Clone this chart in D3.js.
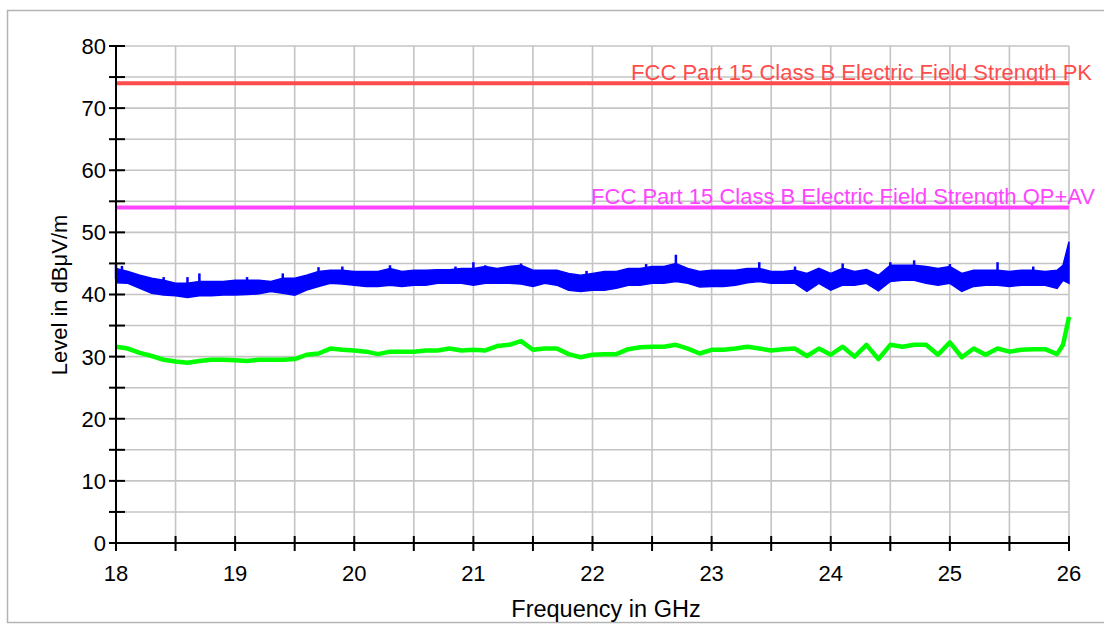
<!DOCTYPE html>
<html>
<head>
<meta charset="utf-8">
<script src="https://cdn.jsdelivr.net/npm/d3@7"></script>
<style>
  html, body { margin: 0; padding: 0; background: #ffffff; }
  svg { display: block; }
  text { font-family: "Liberation Sans", Arial, Helvetica, sans-serif; }
</style>
</head>
<body>
<svg id="chart" width="1104" height="624"></svg>
<script>
// ---------- data ----------
const xTickLabels = [18, 19, 20, 21, 22, 23, 24, 25, 26];
const yTickLabels = [0, 10, 20, 30, 40, 50, 60, 70, 80];

const limitPK = 74;     // FCC Part 15 Class B Electric Field Strength PK
const limitAV = 54;     // FCC Part 15 Class B Electric Field Strength QP+AV
const limitPKLabel = "FCC Part 15 Class B Electric Field Strength PK";
const limitAVLabel = "FCC Part 15 Class B Electric Field Strength QP+AV";

// frequencies (GHz) of the sampled points
const freqs = [
  18.0,18.1,18.2,18.3,18.4,18.5,18.6,18.7,18.8,18.9,
  19.0,19.1,19.2,19.3,19.4,19.5,19.6,19.7,19.8,19.9,
  20.0,20.1,20.2,20.3,20.4,20.5,20.6,20.7,20.8,20.9,
  21.0,21.1,21.2,21.3,21.4,21.5,21.6,21.7,21.8,21.9,
  22.0,22.1,22.2,22.3,22.4,22.5,22.6,22.7,22.8,22.9,
  23.0,23.1,23.2,23.3,23.4,23.5,23.6,23.7,23.8,23.9,
  24.0,24.1,24.2,24.3,24.4,24.5,24.6,24.7,24.8,24.9,
  25.0,25.1,25.2,25.3,25.4,25.5,25.6,25.7,25.8,25.9,
  25.95,26.0
];
// peak trace (blue): upper and lower envelope of the noisy band, dBµV/m
const peakUpper = [
  44.2,43.7,43.1,42.6,42.3,41.8,41.8,42.1,42.1,42.1,
  42.3,42.3,42.3,42.1,42.6,42.6,43.1,43.7,43.9,43.9,
  43.7,43.7,43.7,44.2,43.7,43.9,43.9,44.0,44.0,44.2,
  44.2,44.5,44.2,44.5,44.7,43.9,43.9,43.9,43.4,43.1,
  43.4,43.7,43.7,44.2,44.2,44.5,44.5,45.0,44.2,43.7,
  43.9,43.9,43.9,44.2,44.2,43.7,43.7,43.9,43.4,44.2,
  43.4,44.2,43.7,44.0,43.1,44.7,44.7,44.7,44.5,44.2,
  44.5,43.4,43.9,43.9,43.9,43.7,43.9,43.9,43.7,43.9,
  44.7,48.5
];
const peakLower = [
  41.9,41.8,41.0,40.2,39.9,39.8,39.5,39.8,39.8,39.9,
  39.9,40.0,40.1,40.5,40.2,39.9,40.7,41.3,41.8,41.7,
  41.5,41.3,41.3,41.5,41.3,41.5,41.5,41.8,41.8,41.8,
  41.5,41.8,41.8,41.8,41.7,41.3,41.8,41.5,40.7,40.5,
  40.7,40.7,41.0,41.5,41.5,41.8,41.8,42.1,41.8,41.2,
  41.3,41.3,41.5,41.9,42.1,41.8,41.8,41.8,40.5,41.8,
  40.7,41.5,41.5,41.8,40.6,42.1,42.3,42.3,41.8,41.5,
  41.8,40.5,41.3,41.5,41.5,41.3,41.5,41.5,41.5,41.0,
  42.3,41.8
];
// isolated spikes on the peak trace: frequency, value
const peakSpikeFreqs  = [18.0, 18.05, 18.4, 18.6, 18.7, 19.1, 19.4, 19.7, 19.9, 20.3, 20.85, 21.0, 21.1, 21.4, 21.95, 22.45, 22.7, 23.4, 23.7, 24.1, 24.5, 24.7, 25.0, 25.4, 25.7];
const peakSpikeValues = [45.0, 44.6, 42.8, 42.8, 43.4, 42.8, 43.4, 44.4, 44.5, 44.7, 44.5, 45.2, 44.7, 45.0, 43.8, 44.9, 46.4, 45.2, 44.5, 45.0, 45.2, 45.5, 44.9, 45.2, 44.5];

// average trace (green), dBµV/m
const avgValues = [
  31.6,31.3,30.6,30.1,29.5,29.2,29.0,29.3,29.5,29.5,
  29.4,29.3,29.5,29.5,29.5,29.6,30.3,30.5,31.3,31.1,
  31.0,30.8,30.4,30.8,30.8,30.8,31.0,31.0,31.3,31.0,
  31.1,31.0,31.7,31.9,32.5,31.1,31.3,31.3,30.4,29.9,
  30.3,30.4,30.4,31.2,31.5,31.6,31.6,31.9,31.3,30.5,
  31.1,31.1,31.3,31.6,31.3,31.0,31.2,31.3,30.1,31.3,
  30.3,31.6,30.0,31.9,29.6,31.9,31.6,31.9,31.9,30.3,
  32.3,29.9,31.3,30.3,31.3,30.8,31.1,31.2,31.2,30.4,
  31.9,36.4
];

// ---------- layout ----------
const svg = d3.select("#chart");
const W = 1104, H = 624;
const x0 = 116, x1 = 1069, yTop = 46, yBot = 543;
const fs = 22;

const x = d3.scaleLinear().domain([18, 26]).range([x0, x1]);
const y = d3.scaleLinear().domain([0, 80]).range([yBot, yTop]);

// outer frame
svg.append("rect")
  .attr("x", 7.5).attr("y", 10.5)
  .attr("width", W + 10).attr("height", 612)
  .attr("fill", "#ffffff")
  .attr("stroke", "#b4b4b4").attr("stroke-width", 1.5);

// grid
const gridColor = "#c4c4c4";
const xGrid = d3.range(18, 26.001, 0.5);
const yGrid = d3.range(0, 80.001, 5);
svg.append("g").selectAll("line").data(xGrid).join("line")
  .attr("x1", d => x(d)).attr("x2", d => x(d))
  .attr("y1", y(80)).attr("y2", y(0))
  .attr("stroke", gridColor).attr("stroke-width", 1.6);
svg.append("g").selectAll("line").data(yGrid).join("line")
  .attr("x1", x(18)).attr("x2", x(26))
  .attr("y1", d => y(d)).attr("y2", d => y(d))
  .attr("stroke", gridColor).attr("stroke-width", 1.6);

// limit lines
const pkColor = "#ff4c4c", avColor = "#ff44ff";
svg.append("line")
  .attr("x1", x(18)).attr("x2", x(26)).attr("y1", y(limitPK)).attr("y2", y(limitPK))
  .attr("stroke", pkColor).attr("stroke-width", 4);
svg.append("line")
  .attr("x1", x(18)).attr("x2", x(26)).attr("y1", y(limitAV)).attr("y2", y(limitAV))
  .attr("stroke", avColor).attr("stroke-width", 4);

// average trace
const avgData = freqs.map((f, i) => [f, avgValues[i]]);
svg.append("path")
  .datum(avgData)
  .attr("fill", "none")
  .attr("stroke", "#00ff00")
  .attr("stroke-width", 4.5)
  .attr("stroke-linejoin", "round")
  .attr("d", d3.line().x(d => x(d[0])).y(d => y(d[1])));

// peak trace: noisy band
const peakData = freqs.map((f, i) => ({ f, hi: peakUpper[i], lo: peakLower[i] }));
svg.append("path")
  .datum(peakData)
  .attr("fill", "#0000ff")
  .attr("stroke", "#0000ff")
  .attr("stroke-width", 1.5)
  .attr("d", d3.area().x(d => x(d.f)).y0(d => y(d.lo)).y1(d => y(d.hi)));
svg.append("g").selectAll("line").data(peakSpikeFreqs).join("line")
  .attr("x1", d => x(d)).attr("x2", d => x(d))
  .attr("y1", (d, i) => y(peakSpikeValues[i]))
  .attr("y2", (d, i) => y(peakSpikeValues[i] - 2.5))
  .attr("stroke", "#0000ff").attr("stroke-width", 2.5);

// axes
const axisColor = "#000000";
svg.append("line").attr("x1", x0).attr("x2", x0).attr("y1", yTop).attr("y2", yBot)
  .attr("stroke", axisColor).attr("stroke-width", 2);
svg.append("line").attr("x1", x0).attr("x2", x1 + 1).attr("y1", yBot).attr("y2", yBot)
  .attr("stroke", axisColor).attr("stroke-width", 2);

// y ticks (every 5), labels every 10
svg.append("g").selectAll("line").data(yGrid).join("line")
  .attr("x1", x0 - 7).attr("x2", x0 + 9)
  .attr("y1", d => y(d)).attr("y2", d => y(d))
  .attr("stroke", axisColor).attr("stroke-width", 2);
svg.append("g").selectAll("text").data(yTickLabels).join("text")
  .attr("x", x0 - 10).attr("y", d => y(d))
  .attr("dy", "0.36em")
  .attr("text-anchor", "end")
  .attr("font-size", fs)
  .attr("fill", "#000")
  .text(d => d);

// x ticks (every 0.5), labels every 1
svg.append("g").selectAll("line").data(xGrid).join("line")
  .attr("x1", d => x(d)).attr("x2", d => x(d))
  .attr("y1", yBot - 7).attr("y2", yBot + 8)
  .attr("stroke", axisColor).attr("stroke-width", 2);
svg.append("g").selectAll("text").data(xTickLabels).join("text")
  .attr("x", d => x(d)).attr("y", 581)
  .attr("text-anchor", "middle")
  .attr("font-size", fs)
  .attr("fill", "#000")
  .text(d => d);

// axis titles
svg.append("text")
  .attr("x", 606).attr("y", 617)
  .attr("text-anchor", "middle")
  .attr("font-size", 23.5)
  .attr("fill", "#000")
  .text("Frequency in GHz");
svg.append("text")
  .attr("transform", "translate(67,295) rotate(-90)")
  .attr("text-anchor", "middle")
  .attr("font-size", fs)
  .attr("fill", "#000")
  .text("Level in dBμV/m");

// limit labels
svg.append("text")
  .attr("x", 1092).attr("y", y(limitPK) - 3.5)
  .attr("text-anchor", "end")
  .attr("font-size", fs)
  .attr("fill", pkColor)
  .text(limitPKLabel);
svg.append("text")
  .attr("x", 1095).attr("y", y(limitAV) - 3.5)
  .attr("text-anchor", "end")
  .attr("font-size", fs)
  .attr("fill", avColor)
  .text(limitAVLabel);
</script>
</body>
</html>
